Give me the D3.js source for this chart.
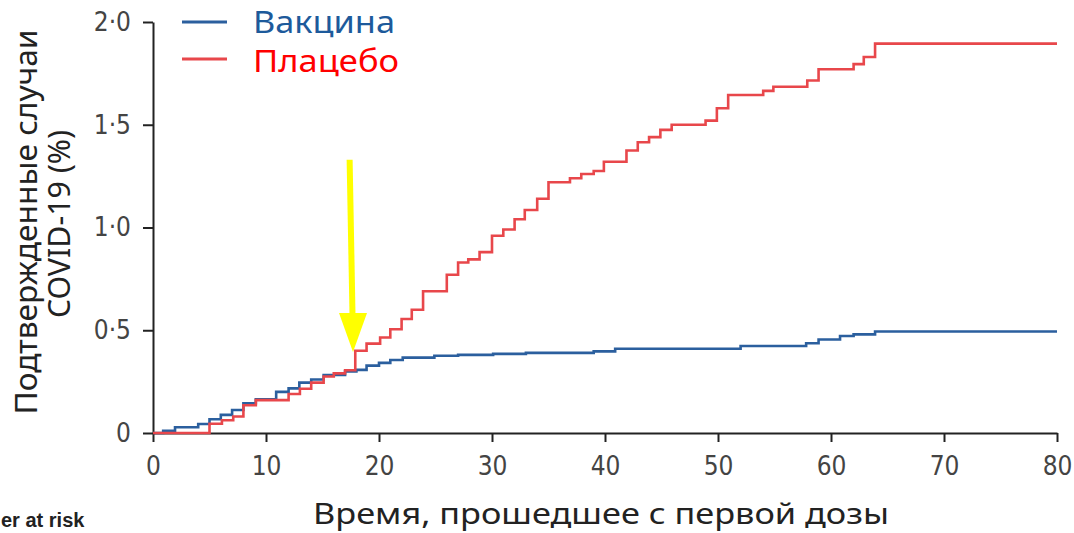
<!DOCTYPE html>
<html><head><meta charset="utf-8">
<script src="https://cdn.jsdelivr.net/npm/d3@7"></script>
<style>body{margin:0;background:#fff}svg{display:block}</style>
</head><body>
<script>
// ---- data ----
const seriesNames = ["Вакцина", "Плацебо"];
const vaccineDays   = [0, 0.9, 1.95, 4.0, 5.0, 6.0, 7.0, 8.0, 9.1, 10.9, 12.0, 12.95, 14.0, 15.1, 17.0, 18.0, 18.9, 20.0, 21.0, 22.1, 24.9, 27.0, 30.1, 33.0, 39.0, 40.9, 52.0, 57.8, 58.9, 60.8, 62.0, 63.9, 80];
const vaccineValues = [0, 0.011, 0.028, 0.044, 0.067, 0.088, 0.112, 0.145, 0.164, 0.200, 0.217, 0.245, 0.260, 0.282, 0.300, 0.307, 0.328, 0.341, 0.355, 0.367, 0.376, 0.380, 0.385, 0.390, 0.397, 0.410, 0.423, 0.437, 0.455, 0.472, 0.480, 0.494, 0.494];
const placeboDays   = [0, 5.0, 6.1, 7.1, 8.0, 9.1, 12.0, 13.0, 14.0, 15.1, 16.0, 17.0, 17.9, 18.9, 20.1, 21.0, 22.0, 22.9, 23.9, 26.0, 27.0, 27.9, 28.9, 30.0, 31.0, 32.0, 32.9, 34.0, 35.0, 36.9, 37.9, 39.0, 39.9, 41.9, 42.9, 43.9, 44.9, 45.9, 48.9, 49.9, 50.9, 54.0, 54.9, 57.9, 58.9, 62.0, 62.9, 63.9, 80];
const placeboValues = [0, 0.045, 0.062, 0.080, 0.135, 0.160, 0.190, 0.215, 0.245, 0.275, 0.290, 0.305, 0.400, 0.435, 0.465, 0.505, 0.555, 0.600, 0.690, 0.770, 0.830, 0.845, 0.880, 0.960, 0.990, 1.040, 1.085, 1.140, 1.220, 1.240, 1.260, 1.275, 1.320, 1.375, 1.415, 1.440, 1.475, 1.500, 1.520, 1.580, 1.645, 1.665, 1.685, 1.715, 1.770, 1.795, 1.830, 1.895, 1.895];
const xTicks = [0, 10, 20, 30, 40, 50, 60, 70, 80];
const xTickLabels = ["0", "10", "20", "30", "40", "50", "60", "70", "80"];
const yTicks = [0, 0.5, 1.0, 1.5, 2.0];
const yTickLabels = ["0", "0·5", "1·0", "1·5", "2·0"];
const arrowDayTop = 17.4, arrowDayTip = 17.7, arrowValueTop = 1.33, arrowValueTip = 0.394, arrowValueHeadBase = 0.584;

// ---- chart ----
const W = 1074, H = 533;
const svg = d3.select("body").append("svg").attr("width", W).attr("height", H);
const x = d3.scaleLinear().domain([0, 80]).range([153, 1057]);
const y = d3.scaleLinear().domain([0, 2]).range([433, 22]);
const tickFont = "'Liberation Sans Narrow','DejaVu Sans Condensed','Roboto Condensed',sans-serif";
const labelFont = "'Noto Sans','Open Sans',sans-serif";

const xAxis = svg.append("g").attr("transform", `translate(0,${y(0)})`)
  .call(d3.axisBottom(x).tickValues(xTicks).tickFormat((d, i) => xTickLabels[i]).tickSize(9).tickSizeOuter(0).tickPadding(15));
const yAxis = svg.append("g").attr("transform", `translate(${x(0)},0)`)
  .call(d3.axisLeft(y).tickValues(yTicks).tickFormat((d, i) => yTickLabels[i]).tickSize(10).tickSizeOuter(0).tickPadding(12));
[xAxis, yAxis].forEach(g => {
  g.select(".domain").attr("stroke", "#222").attr("stroke-width", 2);
  g.selectAll(".tick line").attr("stroke", "#222").attr("stroke-width", 2);
  g.selectAll(".tick text").attr("fill", "#444").style("font-family", tickFont).style("font-size", "26px");
});

const line = d3.line().x(d => x(d[0])).y(d => y(d[1])).curve(d3.curveStepAfter);
const vacc = vaccineDays.map((d, i) => [d, vaccineValues[i]]);
const plac = placeboDays.map((d, i) => [d, placeboValues[i]]);
svg.append("path").datum(vacc).attr("d", line).attr("fill", "none").attr("stroke", "#2b5f9e").attr("stroke-width", 2.6);
svg.append("path").datum(plac).attr("d", line).attr("fill", "none").attr("stroke", "#e8474b").attr("stroke-width", 2.6);

// arrow annotation
svg.append("line").attr("x1", x(arrowDayTop)).attr("y1", y(arrowValueTop))
  .attr("x2", x(arrowDayTip) - 0.5).attr("y2", y(arrowValueHeadBase) + 2)
  .attr("stroke", "#ffff00").attr("stroke-width", 6);
const tx = x(arrowDayTip), ty = y(arrowValueTip), hb = y(arrowValueHeadBase);
svg.append("path").attr("d", `M${tx - 14},${hb}L${tx + 14},${hb}L${tx},${ty}Z`).attr("fill", "#ffff00");

// legend
const legendColors = ["#2b5f9e", "#e8474b"];
const legendTextColors = ["#1d5a9b", "#ff0000"];
const legendLineY = [22, 59], legendTextY = [33, 72];
seriesNames.forEach((name, i) => {
  svg.append("line").attr("x1", 182).attr("x2", 227).attr("y1", legendLineY[i]).attr("y2", legendLineY[i])
    .attr("stroke", legendColors[i]).attr("stroke-width", 3);
  svg.append("text").attr("x", 253).attr("y", legendTextY[i]).text(name)
    .attr("fill", legendTextColors[i]).style("font-family", labelFont).style("font-size", "30px")
    .attr("textLength", i === 0 ? 142 : 146).attr("lengthAdjust", "spacingAndGlyphs");
});

// axis titles
svg.append("text").attr("x", 601).attr("y", 524).attr("text-anchor", "middle")
  .text("Время, прошедшее с первой дозы").attr("fill", "#222")
  .style("font-family", labelFont).style("font-size", "29px")
  .attr("textLength", 576).attr("lengthAdjust", "spacingAndGlyphs");
svg.append("text").attr("transform", "translate(37,222) rotate(-90)").attr("text-anchor", "middle")
  .text("Подтвержденные случаи").attr("fill", "#222")
  .style("font-family", labelFont).style("font-size", "30px")
  .attr("textLength", 385).attr("lengthAdjust", "spacingAndGlyphs");
svg.append("text").attr("transform", "translate(70,224) rotate(-90)").attr("text-anchor", "middle")
  .text("COVID-19 (%)").attr("fill", "#222")
  .style("font-family", labelFont).style("font-size", "30px")
  .attr("textLength", 188).attr("lengthAdjust", "spacingAndGlyphs");

// cropped "Number at risk" remnant
svg.append("text").attr("x", 1).attr("y", 527).text("er at risk").attr("fill", "#222")
  .style("font-family", "'Liberation Sans','Open Sans',sans-serif").style("font-weight", "bold").style("font-size", "20px");
</script>
</body></html>
